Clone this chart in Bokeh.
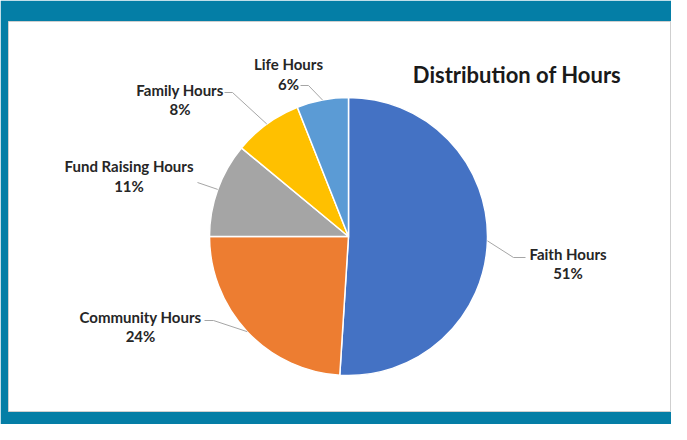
import math
from bokeh.plotting import figure
from bokeh.models import Range1d, ColumnDataSource
from bokeh.core.properties import value
from bokeh.embed import file_html
from bokeh.resources import INLINE

# ---- data ----
categories = ["Faith Hours", "Community Hours", "Fund Raising Hours", "Family Hours", "Life Hours"]
percents = [51, 24, 11, 8, 6]
colors = ["#4472C4", "#ED7D31", "#A5A5A5", "#FFC000", "#5B9BD5"]
title_text = "Distribution of Hours"

# ---- layout (reference pixel coords, y measured downward, converted below) ----
H = 440
cx, cy, r = 356, 244, 139
label_x = [575.5, 148, 136.5, 187.5, 296]
label_y1 = [261, 324, 173, 97, 71.5]
label_y2 = [280, 343, 193, 116, 91]
# leader line points near label (list of points before the slice edge)
leader_pts = [
    [(533, 265), (521, 265)],
    [(212, 328), (221, 328)],
    [(205, 190)],
    [(232, 100), (240, 100)],
    [(308, 93), (316, 93)],
]

def Y(y):
    return H - y

p = figure(width=671, height=424, output_backend="svg", toolbar_location=None,
           x_range=Range1d(16, 679), y_range=Range1d(Y(419), Y(29)),
           min_border_left=8, min_border_right=0, min_border_top=21, min_border_bottom=13)
p.axis.visible = False
p.grid.visible = False
p.border_fill_color = "#047EA6"
p.background_fill_color = "white"
p.outline_line_color = "#cfcfcf"
p.outline_line_width = 1

total = sum(percents)
starts, ends, mids = [], [], []
cum = 0.0
for v in percents:
    a0 = math.pi / 2 - 2 * math.pi * cum / total
    cum += v
    a1 = math.pi / 2 - 2 * math.pi * cum / total
    starts.append(a0)
    ends.append(a1)
    mids.append((a0 + a1) / 2)

src = ColumnDataSource(dict(x=[cx] * len(percents), y=[Y(cy)] * len(percents),
                            start=starts, end=ends, color=colors))
p.wedge(x="x", y="y", radius=r, start_angle="start", end_angle="end", direction="clock",
        fill_color="color", line_color="white", line_width=1.5, source=src)

# leader lines
for pts, m in zip(leader_pts, mids):
    ex = cx + r * math.cos(m)
    ey = Y(cy) + r * math.sin(m)
    xs = [q[0] for q in pts] + [ex]
    ys = [Y(q[1]) for q in pts] + [ey]
    p.line(xs, ys, line_color="#A6A6A6", line_width=1)

lab = ColumnDataSource(dict(x=label_x, y1=[Y(v) for v in label_y1], y2=[Y(v) for v in label_y2],
                            name=categories, pct=[f"{v}%" for v in percents]))
for ycol, tcol in (("y1", "name"), ("y2", "pct")):
    p.text(x="x", y=ycol, text=tcol, source=lab, text_font=value("Lato"),
           text_font_style="bold", text_font_size="15px", text_color="#262626",
           text_align="center", text_baseline="middle")

p.text(x=[524.5], y=[Y(82)], text=[title_text], text_font=value("Lato"),
       text_font_style="bold", text_font_size="22px", text_color="#1a1a1a",
       text_align="center", text_baseline="middle")

open("out.html", "w").write(file_html(p, INLINE))
